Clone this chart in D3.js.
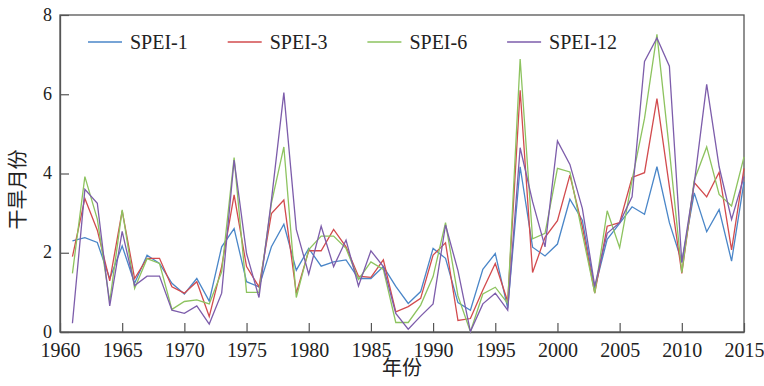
<!DOCTYPE html>
<html>
<head>
<meta charset="utf-8">
<script src="https://cdn.jsdelivr.net/npm/d3@7"></script>
<style>
  body { margin: 0; background: #fff; }
</style>
</head>
<body>
<div id="chart"></div>
<script>
// Values, one per year 1961-2015
var years = d3.range(1961, 2016);

var spei1 = [2.30, 2.38, 2.26, 1.35, 2.17, 1.23, 1.94, 1.73, 1.23, 0.96, 1.35, 0.78, 2.15, 2.61,
    1.27, 1.14, 2.15, 2.72, 1.56, 2.11, 1.66, 1.77, 1.82, 1.35, 1.35, 1.65, 1.15, 0.72, 1.02, 2.11,
    1.86, 0.74, 0.55, 1.58, 1.98, 0.60, 4.17, 2.14, 1.92, 2.22, 3.35, 2.82, 1.10,
    2.34, 2.74, 3.16, 2.97, 4.17, 2.76, 1.77, 3.51, 2.53, 3.09, 1.79, 3.79];

var spei3 = [1.90, 3.37, 2.57, 1.29, 3.06, 1.35, 1.86, 1.86, 1.14, 0.98, 1.27, 0.39, 1.65, 3.46,
    1.65, 1.14, 2.99, 3.33, 0.98, 2.05, 2.05, 2.59, 2.15, 1.41, 1.38, 1.82, 0.51, 0.64, 0.85, 1.94,
    2.25, 0.29, 0.34, 1.06, 1.73, 0.77, 6.10, 1.50, 2.39, 2.81, 3.96, 2.66, 0.98,
    2.67, 2.76, 3.90, 4.02, 5.89, 3.67, 1.48, 3.77, 3.41, 4.03, 2.07, 4.13];

var spei6 = [1.48, 3.92, 2.85, 0.77, 3.08, 1.10, 1.85, 1.73, 0.57, 0.77, 0.81, 0.71, 1.52, 4.40,
    1.00, 1.00, 3.25, 4.67, 0.87, 2.08, 2.42, 2.42, 2.11, 1.33, 1.77, 1.58, 0.24, 0.24, 0.68, 1.40,
    2.76, 0.91, 0.01, 0.96, 1.13, 0.72, 6.89, 2.35, 2.49, 4.13, 4.04, 2.49, 0.98,
    3.06, 2.13, 3.83, 5.39, 7.51, 4.59, 1.50, 3.83, 4.67, 3.47, 3.18, 4.42];

var spei12 = [0.22, 3.60, 3.25, 0.66, 2.54, 1.17, 1.41, 1.41, 0.55, 0.47, 0.66, 0.20, 0.98, 4.34,
    1.98, 0.87, 3.33, 6.04, 2.59, 1.46, 2.67, 1.65, 2.32, 1.16, 2.05, 1.65, 0.47, 0.07, 0.40, 0.71,
    2.70, 1.55, 0.01, 0.71, 0.98, 0.55, 4.65, 3.29, 2.15, 4.82, 4.23, 3.12, 1.16,
    2.49, 2.76, 3.41, 6.83, 7.42, 6.71, 1.75, 3.75, 6.25, 4.17, 2.84, 3.92];

var seriesNames = ["SPEI-1", "SPEI-3", "SPEI-6", "SPEI-12"];
var seriesColors = ["#4a86c8", "#d24b4e", "#8dc35f", "#7d5dab"];
var xTicks = d3.range(1960, 2016, 5);
var yTicks = [0, 2, 4, 6, 8];

var serif = "'Liberation Serif'";
var cjk = "'Noto Sans CJK SC'";

var margin = { top: 15, right: 20, bottom: 54, left: 60 },
    width = 764 - margin.left - margin.right,
    height = 386 - margin.top - margin.bottom;

var svg = d3.select("#chart").append("svg")
    .attr("width", 764)
    .attr("height", 386)
    .append("g")
    .attr("transform", "translate(" + margin.left + "," + margin.top + ")");

var x = d3.scaleLinear().domain([1960, 2015]).range([0, width]);
var y = d3.scaleLinear().domain([0, 8]).range([height, 0]);

// frame
svg.append("rect")
    .attr("width", width)
    .attr("height", height)
    .attr("fill", "none")
    .attr("stroke", "#555")
    .attr("stroke-width", 1.3);

// axes, ticks pointing inward
var xAxis = svg.append("g")
    .attr("transform", "translate(0," + height + ")")
    .call(d3.axisBottom(x).tickValues(xTicks).tickFormat(d3.format("d")).tickSizeInner(-9).tickSizeOuter(0));
xAxis.attr("font-family", null);
xAxis.selectAll("text")
    .attr("y", 11)
    .attr("dy", "0.71em")
    .attr("fill", "#222")
    .style("font-family", serif)
    .style("font-size", "20px");

var yAxis = svg.append("g")
    .call(d3.axisLeft(y).tickValues(yTicks).tickSizeInner(-9).tickSizeOuter(0));
yAxis.attr("font-family", null);
yAxis.selectAll("text")
    .attr("x", -8)
    .attr("dy", "0.28em")
    .attr("fill", "#222")
    .style("font-family", serif)
    .style("font-size", "18px");

[xAxis, yAxis].forEach(function (g) {
    g.select(".domain").attr("stroke", "#555").attr("stroke-width", 1.3);
    g.selectAll("line").attr("stroke", "#555").attr("stroke-width", 1.2);
});

// lines
var allSeries = [spei1, spei3, spei6, spei12];
var line = d3.line()
    .x(function (d, i) { return x(years[i]); })
    .y(function (d) { return y(d); });

svg.selectAll(".series")
    .data(allSeries)
    .enter().append("path")
    .attr("class", "series")
    .attr("d", line)
    .attr("fill", "none")
    .attr("stroke", function (d, i) { return seriesColors[i]; })
    .attr("stroke-width", 1.3);

// legend
var legend = svg.selectAll(".legend")
    .data(seriesNames)
    .enter().append("g")
    .attr("class", "legend")
    .attr("transform", function (d, i) { return "translate(" + (28 + i * 139.7) + ",27)"; });

legend.append("line")
    .attr("x1", 0).attr("x2", 34)
    .attr("stroke", function (d, i) { return seriesColors[i]; })
    .attr("stroke-width", 1.3);

legend.append("text")
    .attr("x", 42)
    .attr("dy", "0.35em")
    .style("font-family", serif)
    .style("font-size", "20px")
    .attr("fill", "#222")
    .text(function (d) { return d; });

// axis titles
svg.append("text")
    .attr("x", width / 2)
    .attr("y", height + 43)
    .attr("text-anchor", "middle")
    .style("font-family", cjk)
    .style("font-size", "20px")
    .attr("fill", "#222")
    .text("年份");

svg.append("text")
    .attr("transform", "translate(-35," + (height / 2 + 16) + ") rotate(-90)")
    .attr("text-anchor", "middle")
    .style("font-family", cjk)
    .style("font-size", "20px")
    .attr("fill", "#222")
    .text("干旱月份");
</script>
</body>
</html>
